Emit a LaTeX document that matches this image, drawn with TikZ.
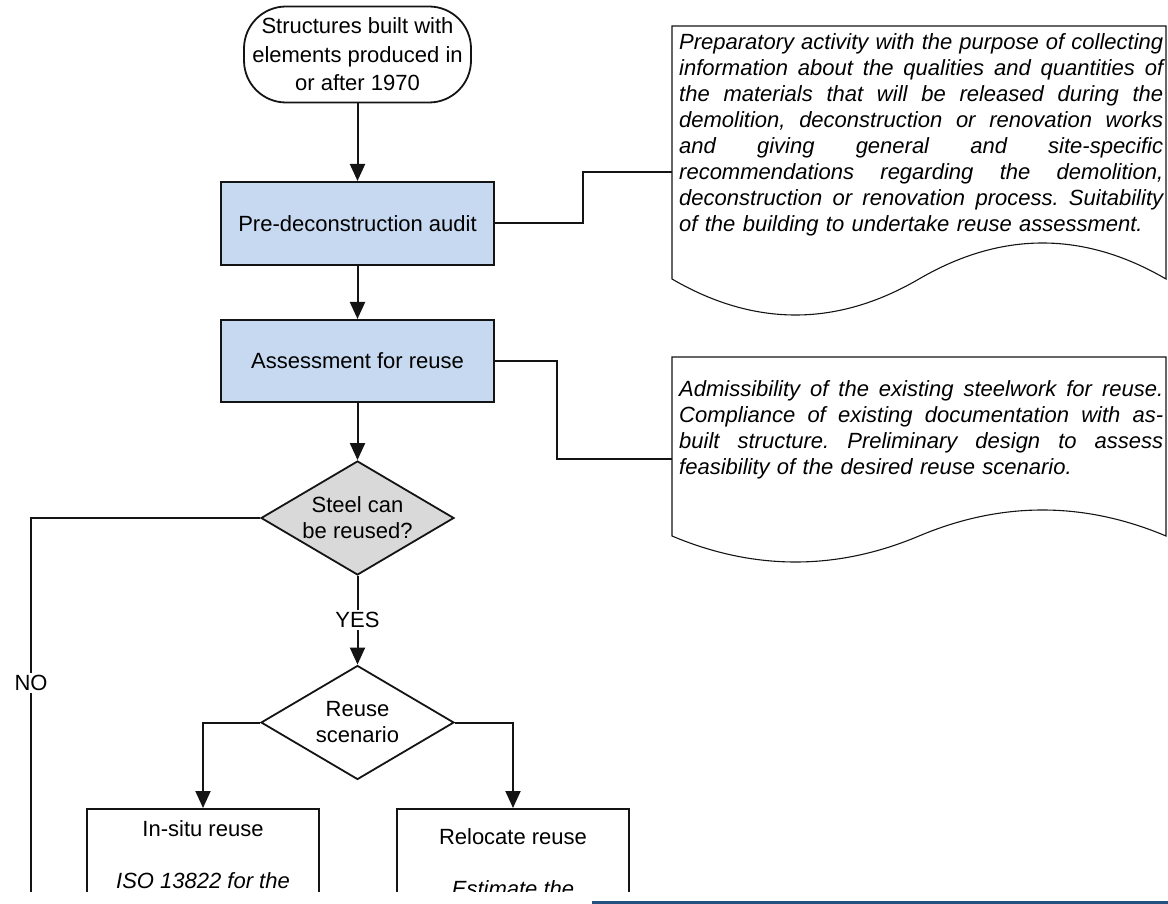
\documentclass[tikz,border=0pt]{standalone}
\usepackage{fontspec}
\setmainfont{Liberation Sans}
\usetikzlibrary{arrows.meta,shapes.geometric}

\definecolor{inkline}{RGB}{20,20,20}
\definecolor{procfill}{RGB}{198,217,240}
\definecolor{decfill}{RGB}{217,217,217}
\definecolor{barblue}{RGB}{36,82,128}

% document symbol: left, top, right, base of the wavy edge, wave amplitude
\newcommand{\docoutline}[5]{%
  \draw[docline] (#1,#2) -- (#3,#2) -- (#3,#4)
    .. controls ({#3-(#3-#1)/6},{#4-4*#5/3}) and ({(#1+#3)/2+(#3-#1)/6},{#4-4*#5/3}) .. ({(#1+#3)/2},#4)
    .. controls ({(#1+#3)/2-(#3-#1)/6},{#4+4*#5/3}) and ({#1+(#3-#1)/6},{#4+4*#5/3}) .. (#1,#4) -- cycle;}
% one fully justified line of a note (stretchable interword glue)
\newcommand{\jline}[1]{\makebox[484pt][s]{\spaceskip=0pt\xspaceskip=0pt #1}\par}

\begin{document}
\begin{tikzpicture}[x=1pt,y=-1pt,
  txt/.style={font=\fontsize{22}{26}\selectfont},
  flow/.style={draw=inkline,line width=2pt},
  arr/.style={flow,-{Triangle[length=17pt,width=15pt]}},
  terminal/.style={draw=inkline,line width=1.8pt,rounded corners=42pt,minimum width=227pt,minimum height=96pt,inner sep=0pt,align=center,font=\fontsize{22}{28.5}\selectfont},
  procbox/.style={draw=inkline,line width=2pt,fill=procfill,minimum width=273pt,minimum height=83pt,inner sep=0pt,txt},
  decision/.style={diamond,draw=inkline,line width=1.8pt,minimum width=193pt,minimum height=114pt,inner sep=0pt,aspect=1.69,align=center,txt},
  casebox/.style={draw=inkline,line width=1.8pt,minimum width=232pt,minimum height=200pt,anchor=north,inner sep=0pt},
  casetext/.style={anchor=north,align=center,inner sep=0pt,txt},
  lbl/.style={fill=white,inner sep=2pt,txt},
  doctext/.style={anchor=north west,text width=484pt,inner sep=0pt,font=\fontsize{22}{26}\selectfont\itshape\frenchspacing,execute at begin node={\setlength{\parindent}{0pt}}},
  docline/.style={draw=inkline,line width=1.1pt}]

\useasboundingbox (0,0) rectangle (1168,904);

\begin{scope}
\clip (0,0) rectangle (1168,891);

% main flow
\node[terminal] (start) at (357.5,54.5) {Structures built with\\elements produced in\\or after 1970};
\node[procbox] (audit) at (357.5,223.5) {Pre-deconstruction audit};
\node[procbox,minimum height=82pt] (assess) at (357.5,361) {Assessment for reuse};
\node[decision,fill=decfill] (reusable) at (357.5,518) {Steel can\\be reused?};
\node[decision] (scenario) at (357.5,722.5) {Reuse\\scenario};
\node[casebox] (insitu) at (203,808) {};
\node[casebox] (relocate) at (513,808) {};
\node[casetext] (insitutxt) at (203,820) {In-situ reuse\\[26pt]\textit{ISO 13822 for the}};
\node[casetext] (relocatetxt) at (513,828) {Relocate reuse\\[26pt]\textit{Estimate the}};

% annotations
\docoutline{672}{26}{1166}{279}{36}
\node[doctext] (prepnote) at (679,33) {%
\jline{Preparatory activity with the purpose of collecting}
\jline{information about the qualities and quantities of}
\jline{the materials that will be released during the}
\jline{demolition, deconstruction or renovation works}
\jline{and giving general and site-specific}
\jline{recommendations regarding the demolition,}
\jline{deconstruction or renovation process. Suitability}
of the building to undertake reuse assessment.};

\docoutline{672}{357}{1166}{536}{26}
\node[doctext] (assessnote) at (679,380) {%
\jline{Admissibility of the existing steelwork for reuse.}
\jline{Compliance of existing documentation with as-}
\jline{built structure. Preliminary design to assess}
feasibility of the desired reuse scenario.};

\coordinate (prepin) at (672,172);
\coordinate (assessin) at (672,459);
\coordinate (nocorner) at (31,518);
\coordinate (noend) at (31,960);

% connectors
\draw[arr] (start.south) -- (audit.north);
\draw[arr] (audit.south) -- (assess.north);
\draw[arr] (assess.south) -- (reusable.north);
\draw[arr] (reusable.south) -- node[lbl] (yes) {YES} (scenario.north);
\draw[arr] (scenario.west) -| (insitu.north);
\draw[arr] (scenario.east) -| (relocate.north);
\draw[flow] (audit.east) -- ++(88,0) |- (prepin);
\draw[flow] (assess.east) -- ++(62,0) |- (assessin);
\draw[flow] (reusable.west) -- (nocorner) -- (noend);
\node[lbl] (no) at (31,683) {NO};
\end{scope}

\fill[barblue] (592,900.5) rectangle (1168,904);
\end{tikzpicture}
\end{document}
